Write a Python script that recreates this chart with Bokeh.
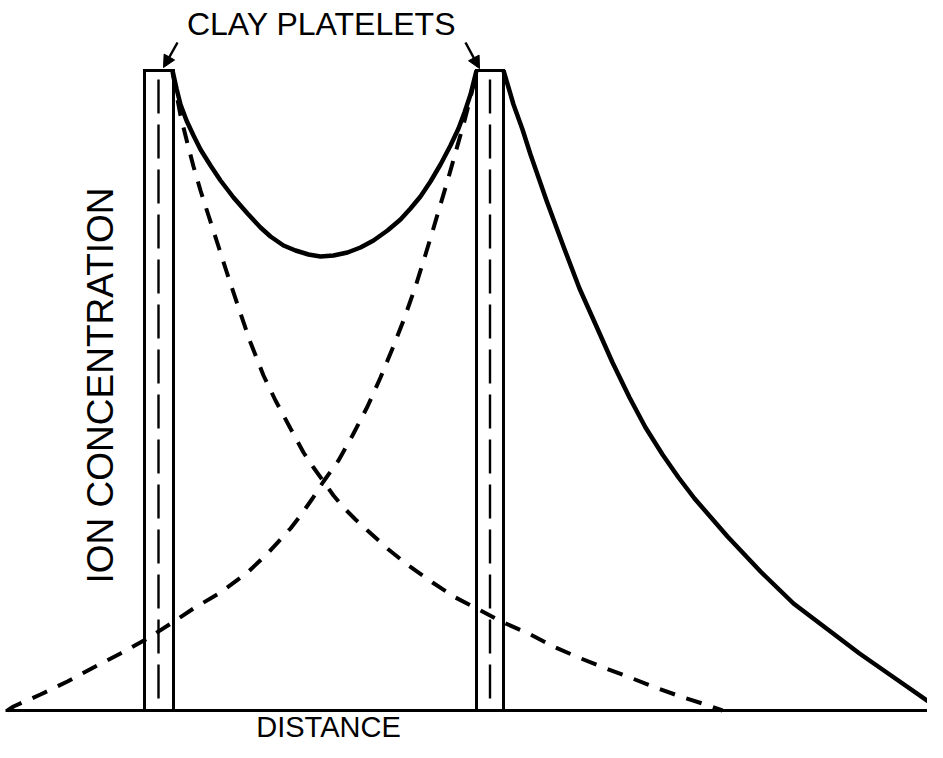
from bokeh.plotting import figure
from bokeh.models import Range1d, Arrow, NormalHead
from bokeh.core.properties import value
from bokeh.embed import file_html
from bokeh.resources import INLINE
import math

# ---- data (distance units, ion concentration units) ----
platelet_left = [144, 476]
platelet_right = [173, 503]
platelet_top = [640, 640]
platelet_bottom = [0, 0]
platelet_mid = [158, 489.5]
platelet_mid_top = [632, 632]
platelet_mid_bottom = [12, 12]

baseline_x = [5, 940]
baseline_c = [0, 0]

# total concentration between the two platelets (solid)
between_x = [172, 176, 180, 186, 193, 200, 210, 220, 233, 247, 260, 270, 283,
             295, 308, 320, 333, 347, 360, 373, 387, 400, 410, 420, 430, 440,
             450, 458, 464, 470, 476]
between_c = [640, 622, 606, 590, 575, 561, 545, 530, 513, 497, 483, 474, 465,
             460, 456, 454, 455, 458, 463, 470, 480, 491, 502, 514, 529, 546,
             565, 582, 598, 616, 640]

# concentration outside the right platelet (solid)
outer_x = [503, 513, 522, 530, 546, 563, 579, 596, 612, 629, 645, 662, 678, 694,
           727, 760, 793, 826, 859, 892, 935, 938]
outer_c = [640, 606, 581, 556, 510, 464, 422, 384, 348, 313, 283, 256, 233, 212,
           174, 139, 107, 82, 57, 34, 4, 0]

# ion cloud of the left platelet (dashed)
left_cloud_x = [172, 180, 187, 193, 200, 208, 218, 227, 240, 250, 263, 275, 290,
                303, 313, 323, 333, 343, 355, 367, 388, 408, 432, 455, 480, 503,
                528, 555, 578, 603, 632, 655, 680, 708, 722]
left_cloud_c = [638, 595, 567, 544, 520, 495, 464, 436, 397, 368, 335, 310, 282,
                258, 243, 229, 215, 203, 191, 180, 161, 145, 128, 113, 100, 88,
                77, 63, 53, 43, 32, 23, 14, 5, 0]

# ion cloud of the right platelet (dashed)
right_cloud_x = [7, 13, 40, 67, 93, 120, 147, 172, 193, 220, 247, 267, 290, 300,
                 312, 323, 338, 352, 367, 380, 392, 403, 415, 425, 432, 440, 448,
                 455, 463, 470, 476]
right_cloud_c = [0, 4, 16, 29, 43, 57, 72, 88, 102, 118, 138, 157, 182, 195,
                 212, 229, 250, 275, 304, 333, 362, 390, 424, 456, 479, 506, 533,
                 558, 586, 613, 638]

# arrows from the label to the platelet tops
arrow_tail_x = [177, 465]
arrow_tail_c = [668, 668]
arrow_tip_x = [163, 479]
arrow_tip_c = [643, 642]

title_text = "CLAY PLATELETS"
x_label = "DISTANCE"
y_label = "ION CONCENTRATION"

# ---- figure ----
W, H = 927, 742
TOP = 710
p = figure(width=W, height=H, output_backend="svg", toolbar_location=None,
           x_range=Range1d(0, W), y_range=Range1d(TOP - H, TOP),
           min_border=0, background_fill_color="white", border_fill_color="white")
p.xaxis.visible = False
p.yaxis.visible = False
p.grid.visible = False
p.outline_line_color = None

# baseline
p.line(baseline_x, baseline_c, line_color="black", line_width=3)

# platelets
p.quad(left=platelet_left, right=platelet_right, top=platelet_top,
       bottom=platelet_bottom, fill_color=None, line_color="black",
       line_width=3, line_join="miter")
p.segment(x0=platelet_mid, y0=platelet_mid_bottom, x1=platelet_mid,
          y1=platelet_mid_top, line_color="black", line_width=2.4,
          line_dash="34 11")

# dashed ion clouds
p.line(left_cloud_x, left_cloud_c, line_color="black", line_width=4,
       line_dash="16 12")
p.line(right_cloud_x, right_cloud_c, line_color="black", line_width=4,
       line_dash="16 12")

# solid total concentration
p.line(between_x, between_c, line_color="black", line_width=4.5,
       line_join="round")
p.line(outer_x, outer_c, line_color="black", line_width=4.5,
       line_join="round")

# arrows
for xs, ys, xe, ye in zip(arrow_tail_x, arrow_tail_c, arrow_tip_x, arrow_tip_c):
    p.add_layout(Arrow(end=NormalHead(size=12, fill_color="black",
                                      line_color="black", line_width=1),
                       x_start=xs, y_start=ys, x_end=xe, y_end=ye,
                       line_color="black", line_width=2.5))

font = value("Liberation Sans")
p.text(x=[321], y=[687], text=[title_text], text_font=font,
       text_font_size="32px", text_align="center", text_baseline="middle",
       text_color="black")
p.text(x=[328], y=[-16], text=[x_label], text_font=font,
       text_font_size="29px", text_align="center", text_baseline="middle",
       text_color="black")
p.text(x=[100], y=[325], text=[y_label], text_font=font,
       text_font_size="37px", text_align="center", text_baseline="middle",
       angle=math.pi / 2, text_color="black")

open("out.html", "w").write(file_html(p, INLINE))
